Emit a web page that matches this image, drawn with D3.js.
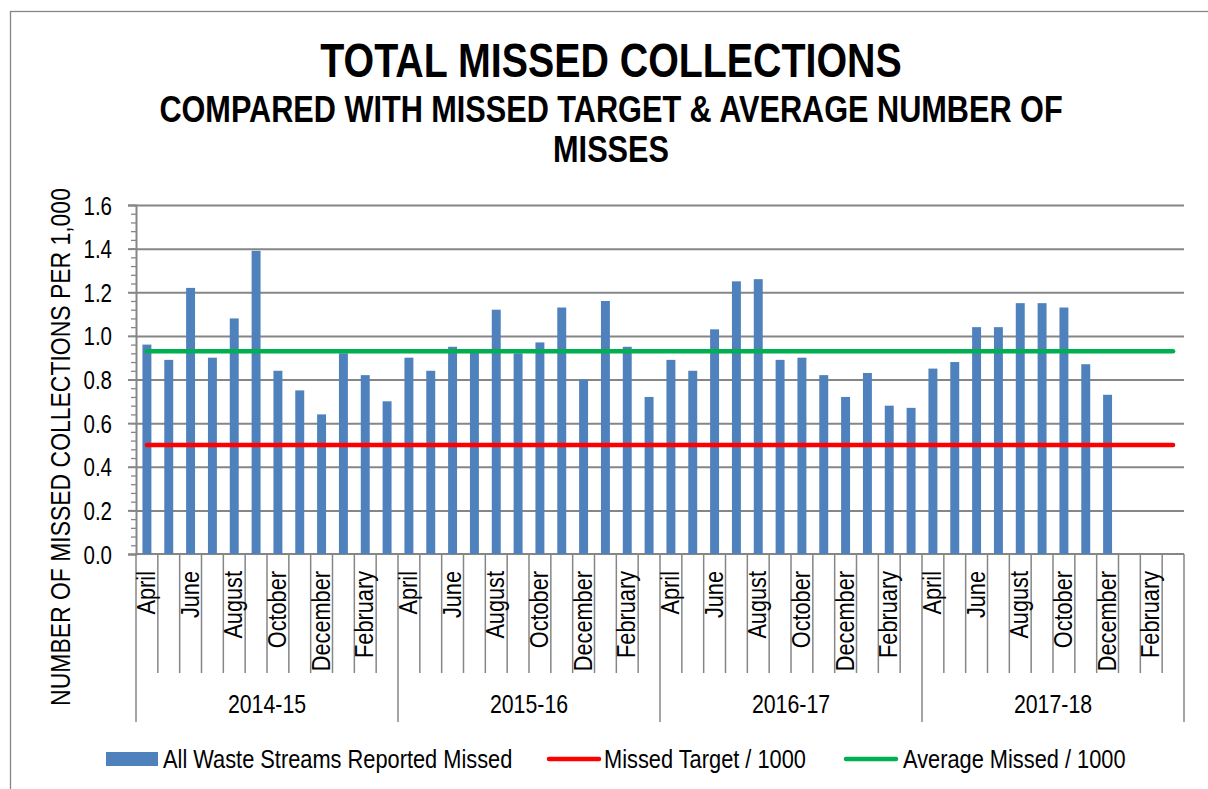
<!DOCTYPE html>
<html>
<head>
<meta charset="utf-8">
<script src="https://cdn.jsdelivr.net/npm/d3@7"></script>
<style>
  body { margin: 0; background: #fff; }
  svg text { font-family: "Liberation Sans", Arial, sans-serif; fill: #000; }
</style>
</head>
<body>
<div id="main"></div>
<script>
// dados
const years = ["2014-15", "2015-16", "2016-17", "2017-18"];
const months = ["April", "May", "June", "July", "August", "September",
  "October", "November", "December", "January", "February", "March"];
const missed2014 = [0.96, 0.89, 1.22, 0.90, 1.08, 1.39, 0.84, 0.75, 0.64, 0.92, 0.82, 0.70];
const missed2015 = [0.90, 0.84, 0.95, 0.94, 1.12, 0.92, 0.97, 1.13, 0.80, 1.16, 0.95, 0.72];
const missed2016 = [0.89, 0.84, 1.03, 1.25, 1.26, 0.89, 0.90, 0.82, 0.72, 0.83, 0.68, 0.67];
const missed2017 = [0.85, 0.88, 1.04, 1.04, 1.15, 1.15, 1.13, 0.87, 0.73, null, null, null];
const missedTarget = 0.5;
const averageMissed = 0.93;
const yTicks = [0, 0.2, 0.4, 0.6, 0.8, 1.0, 1.2, 1.4, 1.6];
const seriesNames = ["All Waste Streams Reported Missed", "Missed Target / 1000", "Average Missed / 1000"];

// sem Arial Narrow: fonte normal comprimida na horizontal
const NARROW = 0.82;
const narrowT = (x, y, rot) => `translate(${x},${y})` + (rot ? ` rotate(${rot})` : "") + ` scale(${NARROW},1)`;

class MissedChart {
  constructor() {
    this.W = 1208;
    this.H = 789;
    this.plot = { left: 136, right: 1184, top: 205, bottom: 554 };
    this.grey = "#868686";
    this.data = [];
    this.createSvg();
  }

  createSvg() {
    this.svg = d3.select("#main")
      .append("svg")
      .attr("width", this.W)
      .attr("height", this.H);

    // moldura do grafico
    this.svg.append("rect")
      .attr("x", 10.5).attr("y", 11.5)
      .attr("width", 1250).attr("height", 900)
      .attr("fill", "none")
      .attr("stroke", this.grey)
      .attr("stroke-width", 1.3);
  }

  buildData() {
    const all = [missed2014, missed2015, missed2016, missed2017];
    years.forEach((y, yi) => {
      months.forEach((m, mi) => {
        this.data.push({ key: y + "|" + m, year: y, month: m, idx: yi * 12 + mi, value: all[yi][mi] });
      });
    });
  }

  createScales() {
    const p = this.plot;
    this.xScale = d3.scaleBand()
      .domain(this.data.map(d => d.key))
      .range([p.left, p.right])
      .paddingInner(0.59)
      .paddingOuter(0.295);
    this.step = this.xScale.step();

    this.yScale = d3.scaleLinear()
      .domain([0, 1.6])
      .range([p.bottom, p.top]);
  }

  renderAxes() {
    const p = this.plot;
    const w = p.right - p.left;

    // linhas de grade
    const grid = this.svg.append("g")
      .attr("transform", `translate(${p.left},0)`)
      .call(d3.axisLeft(this.yScale).tickValues(yTicks.slice(1)).tickSize(-w).tickFormat(""));
    grid.select(".domain").remove();
    grid.selectAll("line").attr("stroke", this.grey).attr("stroke-width", 2);

    // marcas menores
    const minor = this.svg.append("g")
      .attr("transform", `translate(${p.left},0)`)
      .call(d3.axisLeft(this.yScale).tickValues(d3.range(0, 1.61, 0.04)).tickSize(5).tickFormat(""));
    minor.select(".domain").remove();
    minor.selectAll("line").attr("stroke", this.grey).attr("stroke-width", 1.3);

    // eixo Y
    const yAxis = this.svg.append("g")
      .attr("transform", `translate(${p.left},0)`)
      .call(d3.axisLeft(this.yScale).tickValues(yTicks).tickSize(8).tickPadding(15).tickFormat(d3.format(".1f")));
    yAxis.select(".domain").attr("stroke", this.grey).attr("stroke-width", 2);
    yAxis.selectAll("line").attr("stroke", this.grey).attr("stroke-width", 2);
    yAxis.selectAll("text")
      .attr("font-size", 25)
      .attr("x", 0)
      .attr("dy", "0.36em")
      .attr("transform", narrowT(-24, 0));

    // eixo X
    this.svg.append("line")
      .attr("x1", p.left).attr("x2", p.right)
      .attr("y1", p.bottom).attr("y2", p.bottom)
      .attr("stroke", this.grey).attr("stroke-width", 2);

    // separadores de meses e anos
    const seps = d3.range(0, this.data.length + 1);
    this.svg.append("g").selectAll("line")
      .data(seps)
      .join("line")
      .attr("x1", i => p.left + i * this.step)
      .attr("x2", i => p.left + i * this.step)
      .attr("y1", p.bottom)
      .attr("y2", i => i % 12 === 0 ? 722 : 673)
      .attr("stroke", this.grey)
      .attr("stroke-width", 1.5);

    // rotulos dos meses (um sim, um nao)
    this.svg.append("g").selectAll("text")
      .data(this.data.filter(d => d.idx % 2 === 0))
      .join("text")
      .attr("transform", d => narrowT(this.xScale(d.key) + this.xScale.bandwidth() / 2 + 8, 571, -90))
      .attr("text-anchor", "end")
      .attr("font-size", 26.5)
      .text(d => d.month);

    // rotulos dos anos
    this.svg.append("g").selectAll("text")
      .data(years)
      .join("text")
      .attr("transform", (d, i) => narrowT(p.left + (i * 12 + 6) * this.step, 713))
      .attr("text-anchor", "middle")
      .attr("font-size", 26)
      .text(d => d);

    // titulo do eixo Y
    this.svg.append("text")
      .attr("transform", narrowT(70, 447, -90))
      .attr("text-anchor", "middle")
      .attr("font-size", 28)
      .text("NUMBER OF MISSED COLLECTIONS PER 1,000");
  }

  renderBars() {
    this.svg.append("g").selectAll("rect")
      .data(this.data.filter(d => d.value != null))
      .join("rect")
      .attr("x", d => this.xScale(d.key))
      .attr("y", d => this.yScale(d.value))
      .attr("width", this.xScale.bandwidth())
      .attr("height", d => this.yScale(0) - this.yScale(d.value))
      .style("fill", "#4F81BD");
  }

  renderLines() {
    const first = this.data[0].key;
    const last = this.data[this.data.length - 1].key;
    const half = this.xScale.bandwidth() / 2;
    const lines = [
      { v: missedTarget, color: "#FF0000" },
      { v: averageMissed, color: "#00B050" }
    ];
    this.svg.append("g").selectAll("line")
      .data(lines)
      .join("line")
      .attr("x1", this.xScale(first) + half)
      .attr("x2", this.xScale(last) + half)
      .attr("y1", d => this.yScale(d.v))
      .attr("y2", d => this.yScale(d.v))
      .attr("stroke", d => d.color)
      .attr("stroke-width", 4.5)
      .attr("stroke-linecap", "round");
  }

  renderTitle() {
    this.svg.append("text")
      .attr("transform", narrowT(611, 77))
      .attr("text-anchor", "middle")
      .attr("font-size", 48)
      .attr("font-weight", "bold")
      .text("TOTAL MISSED COLLECTIONS");

    const sub = ["COMPARED WITH MISSED TARGET & AVERAGE NUMBER OF", "MISSES"];
    this.svg.append("g").selectAll("text")
      .data(sub)
      .join("text")
      .attr("transform", (d, i) => narrowT(611, 122 + i * 40))
      .attr("text-anchor", "middle")
      .attr("font-size", 37.4)
      .attr("font-weight", "bold")
      .text(d => d);
  }

  renderLegend() {
    const items = [
      { name: seriesNames[0], x: 106, type: "rect", color: "#4F81BD", tx: 163 },
      { name: seriesNames[1], x: 549, type: "line", color: "#FF0000", tx: 604 },
      { name: seriesNames[2], x: 846, type: "line", color: "#00B050", tx: 903 }
    ];
    const g = this.svg.append("g");
    items.forEach(it => {
      if (it.type === "rect") {
        g.append("rect").attr("x", it.x).attr("y", 752).attr("width", 52).attr("height", 14).attr("fill", it.color);
      } else {
        g.append("line").attr("x1", it.x).attr("x2", it.x + 50).attr("y1", 759).attr("y2", 759)
          .attr("stroke", it.color).attr("stroke-width", 4.5).attr("stroke-linecap", "round");
      }
      g.append("text").attr("transform", narrowT(it.tx, 768)).attr("font-size", 26.6).text(it.name);
    });
  }
}

function main() {
  const chart = new MissedChart();
  chart.buildData();
  chart.createScales();
  chart.renderAxes();
  chart.renderBars();
  chart.renderLines();
  chart.renderTitle();
  chart.renderLegend();
}

main();
</script>
</body>
</html>
